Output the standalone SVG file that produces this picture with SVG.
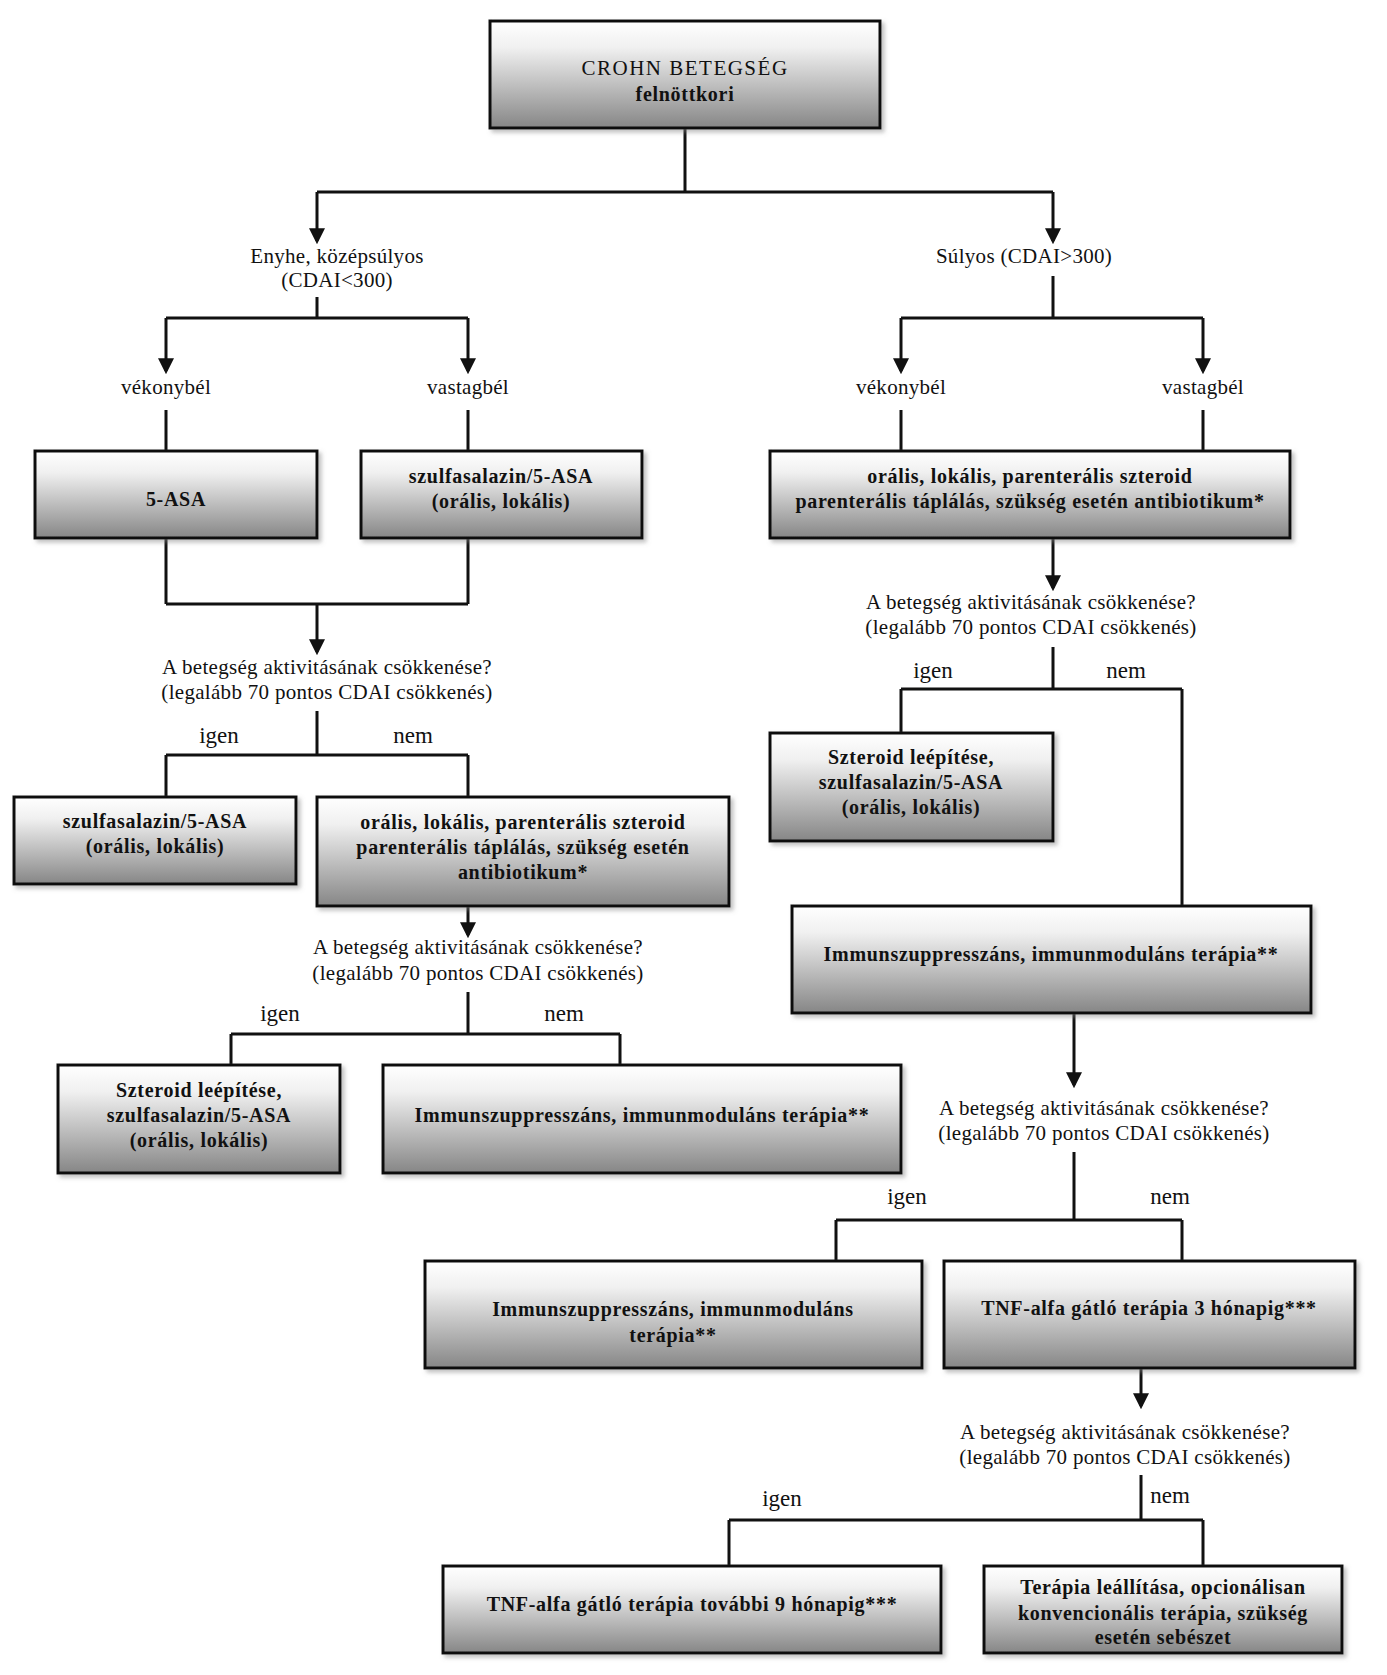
<svg xmlns="http://www.w3.org/2000/svg" width="1387" height="1675" viewBox="0 0 1387 1675">
<style>
.box{fill:url(#g);stroke:#111;stroke-width:3;filter:url(#sh)}
.bt{font-family:"Liberation Serif","Times New Roman",serif;font-size:20px;font-weight:bold;fill:#111;text-anchor:middle;letter-spacing:0.7px}
.bt2{font-family:"Liberation Serif","Times New Roman",serif;font-size:21px;fill:#111;text-anchor:middle;letter-spacing:1.5px}
.lb{font-family:"Liberation Serif","Times New Roman",serif;font-size:21px;fill:#111;text-anchor:middle;letter-spacing:0.3px}
.yn{font-family:"Liberation Serif","Times New Roman",serif;font-size:23px;fill:#111;text-anchor:middle}
.c{fill:none;stroke:#111;stroke-width:3}
.a{marker-end:url(#ah)}
</style>
<defs>
<linearGradient id="g" x1="0" y1="0" x2="0" y2="1">
<stop offset="0" stop-color="#ffffff"/>
<stop offset="0.25" stop-color="#f0f0f0"/>
<stop offset="1" stop-color="#868686"/>
</linearGradient>
<filter id="sh" x="-5%" y="-5%" width="115%" height="125%">
<feDropShadow dx="3" dy="3" stdDeviation="2" flood-color="#808080" flood-opacity="0.5"/>
</filter>
<marker id="ah" viewBox="0 0 10 10" refX="8" refY="5" markerWidth="16" markerHeight="23" markerUnits="userSpaceOnUse" orient="auto">
<path d="M0,0 L10,5 L0,10 z" fill="#111"/>
</marker>
</defs>
<rect width="1387" height="1675" fill="#fff"/>

<g id="connectors">
<path class="c" d="M685,128 V192 M317,192 H1053"/>
<path class="c a" d="M317,192 V241"/>
<path class="c a" d="M1053,192 V241"/>
<path class="c" d="M317,297 V318 M166,318 H468"/>
<path class="c a" d="M166,318 V371"/>
<path class="c a" d="M468,318 V371"/>
<path class="c" d="M166,410 V451 M468,410 V451"/>
<path class="c" d="M1053,276 V318 M901,318 H1203"/>
<path class="c a" d="M901,318 V371"/>
<path class="c a" d="M1203,318 V371"/>
<path class="c" d="M901,410 V451 M1203,410 V451"/>
<path class="c" d="M166,538 V604 M468,538 V604 M166,604 H468"/>
<path class="c a" d="M317,604 V652"/>
<path class="c" d="M317,711 V755 M166,755 H468 M166,755 V797 M468,755 V797"/>
<path class="c a" d="M468,906 V935"/>
<path class="c" d="M468,992 V1034 M231,1034 H620 M231,1034 V1065 M620,1034 V1065"/>
<path class="c a" d="M1053,538 V588"/>
<path class="c" d="M1053,647 V689 M901,689 H1182 M901,689 V733 M1182,689 V906"/>
<path class="c a" d="M1074,1013 V1085"/>
<path class="c" d="M1074,1152 V1220 M836,1220 H1182 M836,1220 V1261 M1182,1220 V1261"/>
<path class="c a" d="M1141,1368 V1406"/>
<path class="c" d="M1141,1475 V1520 M729,1520 H1203 M729,1520 V1566 M1203,1520 V1566"/>
</g>

<g id="labels">
<text class="lb" x="337" y="263">Enyhe, középsúlyos</text>
<text class="lb" x="337" y="287">(CDAI&lt;300)</text>
<text class="lb" x="1024" y="263">Súlyos (CDAI&gt;300)</text>
<text class="lb" x="166" y="394">vékonybél</text>
<text class="lb" x="468" y="394">vastagbél</text>
<text class="lb" x="901" y="394">vékonybél</text>
<text class="lb" x="1203" y="394">vastagbél</text>
<text class="lb" x="327" y="674">A betegség aktivitásának csökkenése?</text>
<text class="lb" x="327" y="699">(legalább 70 pontos CDAI csökkenés)</text>
<text class="yn" x="219" y="743">igen</text>
<text class="yn" x="413" y="743">nem</text>
<text class="lb" x="478" y="954">A betegség aktivitásának csökkenése?</text>
<text class="lb" x="478" y="980">(legalább 70 pontos CDAI csökkenés)</text>
<text class="yn" x="280" y="1021">igen</text>
<text class="yn" x="564" y="1021">nem</text>
<text class="lb" x="1031" y="609">A betegség aktivitásának csökkenése?</text>
<text class="lb" x="1031" y="634">(legalább 70 pontos CDAI csökkenés)</text>
<text class="yn" x="933" y="678">igen</text>
<text class="yn" x="1126" y="678">nem</text>
<text class="lb" x="1104" y="1115">A betegség aktivitásának csökkenése?</text>
<text class="lb" x="1104" y="1140">(legalább 70 pontos CDAI csökkenés)</text>
<text class="yn" x="907" y="1204">igen</text>
<text class="yn" x="1170" y="1204">nem</text>
<text class="lb" x="1125" y="1439">A betegség aktivitásának csökkenése?</text>
<text class="lb" x="1125" y="1464">(legalább 70 pontos CDAI csökkenés)</text>
<text class="yn" x="782" y="1506">igen</text>
<text class="yn" x="1170" y="1503">nem</text>
</g>

<g id="n0"><rect class="box" x="490" y="21" width="390" height="107"/>
<text class="bt2" x="685" y="75">CROHN BETEGSÉG</text>
<text class="bt" x="685" y="101">felnöttkori</text></g>

<g id="n1"><rect class="box" x="35" y="451" width="282" height="87"/>
<text class="bt" x="176" y="506">5-ASA</text></g>

<g id="n2"><rect class="box" x="361" y="451" width="281" height="87"/>
<text class="bt" x="501" y="483">szulfasalazin/5-ASA</text>
<text class="bt" x="501" y="508">(orális, lokális)</text></g>

<g id="n3"><rect class="box" x="770" y="451" width="520" height="87"/>
<text class="bt" x="1030" y="483">orális, lokális, parenterális szteroid</text>
<text class="bt" x="1030" y="508">parenterális táplálás, szükség esetén antibiotikum*</text></g>

<g id="n4"><rect class="box" x="14" y="797" width="282" height="87"/>
<text class="bt" x="155" y="828">szulfasalazin/5-ASA</text>
<text class="bt" x="155" y="853">(orális, lokális)</text></g>

<g id="n5"><rect class="box" x="317" y="797" width="412" height="109"/>
<text class="bt" x="523" y="829">orális, lokális, parenterális szteroid</text>
<text class="bt" x="523" y="854">parenterális táplálás, szükség esetén</text>
<text class="bt" x="523" y="879">antibiotikum*</text></g>

<g id="n6"><rect class="box" x="58" y="1065" width="282" height="108"/>
<text class="bt" x="199" y="1097">Szteroid leépítése,</text>
<text class="bt" x="199" y="1122">szulfasalazin/5-ASA</text>
<text class="bt" x="199" y="1147">(orális, lokális)</text></g>

<g id="n7"><rect class="box" x="383" y="1065" width="518" height="108"/>
<text class="bt" x="642" y="1122">Immunszuppresszáns, immunmoduláns terápia**</text></g>

<g id="n8"><rect class="box" x="770" y="733" width="283" height="108"/>
<text class="bt" x="911" y="764">Szteroid leépítése,</text>
<text class="bt" x="911" y="789">szulfasalazin/5-ASA</text>
<text class="bt" x="911" y="814">(orális, lokális)</text></g>

<g id="n9"><rect class="box" x="792" y="906" width="519" height="107"/>
<text class="bt" x="1051" y="961">Immunszuppresszáns, immunmoduláns terápia**</text></g>

<g id="n10"><rect class="box" x="425" y="1261" width="497" height="107"/>
<text class="bt" x="673" y="1316">Immunszuppresszáns, immunmoduláns</text>
<text class="bt" x="673" y="1342">terápia**</text></g>

<g id="n11"><rect class="box" x="944" y="1261" width="411" height="107"/>
<text class="bt" x="1149" y="1315">TNF-alfa gátló terápia 3 hónapig***</text></g>

<g id="n12"><rect class="box" x="443" y="1566" width="498" height="87"/>
<text class="bt" x="692" y="1611">TNF-alfa gátló terápia további 9 hónapig***</text></g>

<g id="n13"><rect class="box" x="984" y="1566" width="358" height="87"/>
<text class="bt" x="1163" y="1594">Terápia leállítása, opcionálisan</text>
<text class="bt" x="1163" y="1620">konvencionális terápia, szükség</text>
<text class="bt" x="1163" y="1644">esetén sebészet</text></g>
</svg>
